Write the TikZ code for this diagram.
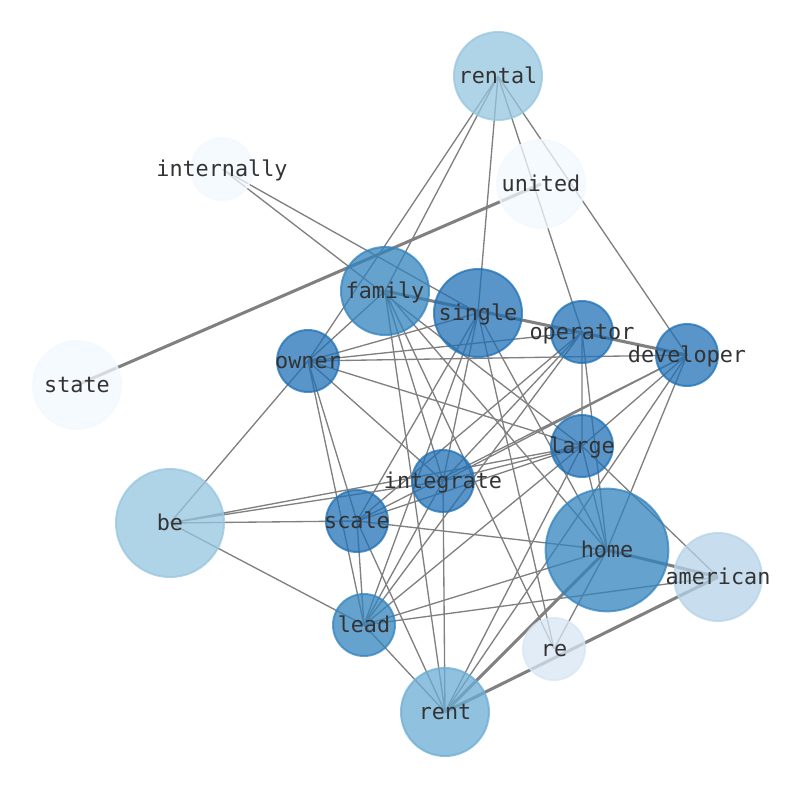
\documentclass[tikz,border=0pt]{standalone}
\usepackage{fontspec}
\setmonofont{DejaVu Sans Mono}
\usetikzlibrary{backgrounds}
\definecolor{bdark}{RGB}{33,113,181}
\definecolor{bmid}{RGB}{51,131,190}
\definecolor{brent}{RGB}{107,174,214}
\definecolor{bpale}{RGB}{150,198,223}
\definecolor{bamer}{RGB}{181,211,232}
\definecolor{bre}{RGB}{215,230,243}
\definecolor{bwhite}{RGB}{242,248,254}
\begin{document}
\begin{tikzpicture}[x=0.75pt,y=-0.75pt,
	term/.style={circle,inner sep=0pt,line width=1.5pt,fill=#1,draw=#1,fill opacity=0.75,draw opacity=0.75},
	small/.style={minimum size=46.5pt},
	medium/.style={minimum size=66pt},
	big/.style={minimum size=81pt},
	huge/.style={minimum size=92pt},
	lbl/.style={font=\ttfamily\fontsize{16.35}{19.6}\selectfont,text=black!80,inner sep=0pt,
		text height=12.4pt,text depth=3.9pt,yshift=-1.3pt,fill opacity=1,text opacity=1},
	edge/.style={gray,line width=1pt},
	bold/.style={gray,line width=2.3pt}]
	\useasboundingbox (0,0) rectangle (794,790);
	% words
	\node[term=bpale,medium] (rental) at (498,76) {};
	\node[term=bwhite,small] (internally) at (222,169) {};
	\node[term=bwhite,medium] (united) at (541,184) {};
	\node[term=bmid,medium] (family) at (385,291) {};
	\node[term=bdark,medium] (single) at (478,313) {};
	\node[term=bdark,small] (operator) at (582,332) {};
	\node[term=bdark,small] (developer) at (687,355) {};
	\node[term=bdark,small] (owner) at (308,361) {};
	\node[term=bwhite,medium] (state) at (77,385) {};
	\node[term=bdark,small] (large) at (582,446) {};
	\node[term=bdark,small] (integrate) at (443,481) {};
	\node[term=bpale,big] (be) at (170,523) {};
	\node[term=bdark,small] (scale) at (357,521) {};
	\node[term=bmid,huge] (home) at (607,550) {};
	\node[term=bamer,medium] (american) at (718,577) {};
	\node[term=bmid,small] (lead) at (364,625) {};
	\node[term=bre,small] (re) at (554,649) {};
	\node[term=brent,medium] (rent) at (445,712) {};
	% labels
	\node[lbl] (rental-l) at (rental) {rental};
	\node[lbl] (internally-l) at (internally) {internally};
	\node[lbl] (united-l) at (united) {united};
	\node[lbl] (family-l) at (family) {family};
	\node[lbl] (single-l) at (single) {single};
	\node[lbl] (operator-l) at (operator) {operator};
	\node[lbl] (developer-l) at (developer) {developer};
	\node[lbl] (owner-l) at (owner) {owner};
	\node[lbl] (state-l) at (state) {state};
	\node[lbl] (large-l) at (large) {large};
	\node[lbl] (integrate-l) at (integrate) {integrate};
	\node[lbl] (be-l) at (be) {be};
	\node[lbl] (scale-l) at (scale) {scale};
	\node[lbl] (home-l) at (home) {home};
	\node[lbl] (american-l) at (american) {american};
	\node[lbl] (lead-l) at (lead) {lead};
	\node[lbl] (re-l) at (re) {re};
	\node[lbl] (rent-l) at (rent) {rent};
	% links
	\begin{pgfonlayer}{background}
		\draw[edge] (rental.center)--(family.center) (rental.center)--(owner.center) (rental.center)--(single.center)
			(rental.center)--(operator.center) (rental.center)--(developer.center);
		\draw[edge] (internally.center)--(single.center) (internally.center)--(large.center);
		\draw[edge] (be.center)--(owner.center) (be.center)--(scale.center) (be.center)--(integrate.center)
			(be.center)--(large.center) (be.center)--(lead.center);
		\draw[edge] (owner.center)--(family.center) (owner.center)--(single.center) (owner.center)--(operator.center)
			(owner.center)--(developer.center) (owner.center)--(large.center) (owner.center)--(integrate.center)
			(owner.center)--(scale.center) (owner.center)--(lead.center);
		\draw[edge] (family.center)--(integrate.center) (family.center)--(re.center) (family.center)--(home.center)
			(family.center)--(rent.center);
		\draw[edge] (single.center)--(scale.center) (single.center)--(integrate.center) (single.center)--(lead.center)
			(single.center)--(re.center) (single.center)--(home.center);
		\draw[edge] (operator.center)--(large.center) (operator.center)--(home.center) (operator.center)--(integrate.center)
			(operator.center)--(scale.center) (operator.center)--(lead.center);
		\draw[edge] (developer.center)--(large.center) (developer.center)--(integrate.center) (developer.center)--(scale.center)
			(developer.center)--(home.center) (developer.center)--(rent.center);
		\draw[edge] (large.center)--(integrate.center) (large.center)--(scale.center) (large.center)--(lead.center)
			(large.center)--(home.center) (large.center)--(american.center) (large.center)--(rent.center);
		\draw[edge] (integrate.center)--(lead.center) (integrate.center)--(rent.center);
		\draw[edge] (scale.center)--(home.center) (scale.center)--(lead.center) (scale.center)--(rent.center);
		\draw[edge] (lead.center)--(home.center) (lead.center)--(american.center) (lead.center)--(rent.center);
		\draw[edge] (home.center)--(re.center);
		\draw[bold] (united.center)--(state.center);
		\draw[bold] (family.center)--(developer.center);
		\draw[bold] (home.center)--(american.center) (home.center)--(rent.center) (rent.center)--(american.center);
	\end{pgfonlayer}
\end{tikzpicture}
\end{document}
